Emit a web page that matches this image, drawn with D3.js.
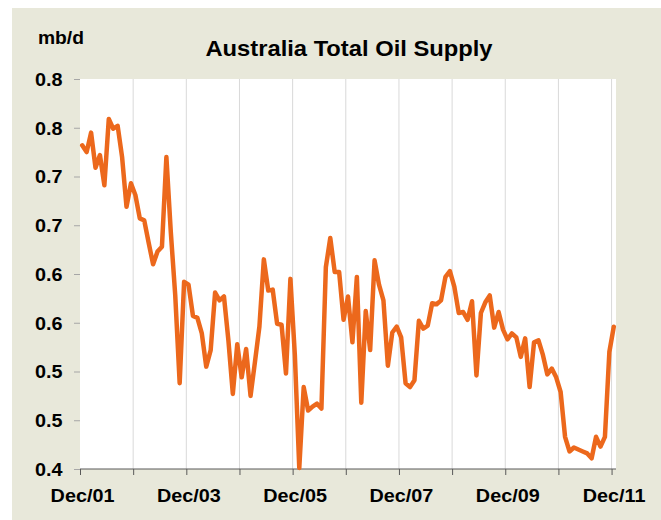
<!DOCTYPE html>
<html>
<head>
<meta charset="utf-8">
<script src="https://cdn.jsdelivr.net/npm/d3@7"></script>
<style>
  body { margin: 0; background: #fff; }
  text { font-family: "Liberation Sans", Arial, sans-serif; font-weight: bold; fill: #000; }
</style>
</head>
<body>
<div id="chart"></div>
<script>
// Canvas
const width = 661,
  height = 520
const plot = { left: 80, top: 79, right: 616, bottom: 469 }
const stretch = 1.1

// Monthly supply, Dec 2001 .. Dec 2011 (mb/d)
const supply = [
  0.732, 0.725, 0.745, 0.709, 0.722, 0.691, 0.759, 0.749, 0.752, 0.720, 0.669, 0.693,
  0.681, 0.657, 0.655, 0.632, 0.610, 0.623, 0.628, 0.720, 0.643, 0.578, 0.488, 0.592,
  0.589, 0.557, 0.555, 0.539, 0.505, 0.522, 0.581, 0.573, 0.577, 0.532, 0.477, 0.528,
  0.494, 0.523, 0.475, 0.510, 0.546, 0.615, 0.583, 0.584, 0.549, 0.548, 0.498, 0.595,
  0.517, 0.401, 0.484, 0.460, 0.464, 0.467, 0.462, 0.607, 0.637, 0.602, 0.602, 0.553,
  0.577, 0.530, 0.597, 0.468, 0.562, 0.522, 0.614, 0.589, 0.573, 0.506, 0.540, 0.546,
  0.535, 0.488, 0.484, 0.491, 0.552, 0.544, 0.547, 0.570, 0.569, 0.573, 0.597, 0.603,
  0.587, 0.560, 0.561, 0.553, 0.572, 0.496, 0.560, 0.571, 0.578, 0.545, 0.561, 0.543,
  0.533, 0.539, 0.535, 0.515, 0.534, 0.484, 0.530, 0.532, 0.517, 0.497, 0.503, 0.494,
  0.479, 0.433, 0.418, 0.422, 0.420, 0.418, 0.416, 0.411, 0.433, 0.423, 0.433, 0.520,
  0.546
]

// December of each year, as month index
const yearTicks = [0, 12, 24, 36, 48, 60, 72, 84, 96, 108, 120]
const xLabels = ['Dec/01', '', 'Dec/03', '', 'Dec/05', '', 'Dec/07', '', 'Dec/09', '', 'Dec/11']

const yTicks = [0.4, 0.45, 0.5, 0.55, 0.6, 0.65, 0.7, 0.75, 0.8]
const yLabels = ['0.4', '0.5', '0.5', '0.6', '0.6', '0.7', '0.7', '0.8', '0.8']

let svg = d3.select('#chart')
  .append('svg')
  .attr('width', width)
  .attr('height', height)

// backgrounds
svg.append('rect')
  .attr('x', 12).attr('y', 8)
  .attr('width', width - 12).attr('height', height - 8)
  .attr('fill', '#e8e8da')

svg.append('rect')
  .attr('x', plot.left).attr('y', plot.top)
  .attr('width', plot.right - plot.left).attr('height', plot.bottom - plot.top)
  .attr('fill', '#fff')

let xScale = d3.scaleLinear()
  .domain([0, supply.length])
  .range([plot.left, plot.right])

let yScale = d3.scaleLinear()
  .domain([0.4, 0.8])
  .range([plot.bottom, plot.top])

// vertical gridlines
svg.selectAll('line.grid')
  .data(yearTicks.slice(1))
  .enter()
  .append('line')
  .attr('class', 'grid')
  .attr('x1', d => xScale(d)).attr('x2', d => xScale(d))
  .attr('y1', plot.top).attr('y2', plot.bottom)
  .attr('stroke', '#d9d9d9')
  .attr('stroke-width', 1)

// y axis
let y_axis = d3.axisLeft(yScale)
  .tickValues(yTicks)
  .tickSize(6)
  .tickPadding(10)
  .tickFormat((d, i) => yLabels[i])

let gy = svg.append('g')
  .attr('transform', `translate(${plot.left},0)`)
  .call(y_axis)
gy.select('.domain').remove()
gy.selectAll('.tick line').attr('stroke', '#a6a6a6')
gy.selectAll('.tick text')
  .attr('font-size', 18)
  .attr('dy', '0.36em')
  .attr('transform', `scale(${stretch},1)`)

// x axis
let x_axis = d3.axisBottom(xScale)
  .tickValues(yearTicks)
  .tickSize(6)
  .tickPadding(14)
  .tickFormat((d, i) => xLabels[i])

let gx = svg.append('g')
  .attr('transform', `translate(0,${plot.bottom})`)
  .call(x_axis)
gx.select('.domain').attr('stroke', '#595959').attr('d', `M${plot.left},0H${plot.right}`)
gx.selectAll('.tick line').attr('stroke', '#595959')
gx.selectAll('.tick text')
  .attr('font-size', 18)
  .attr('transform', `translate(2,0) scale(${stretch},1)`)

// series
let line = d3.line()
  .x((d, i) => xScale(i + 0.5))
  .y(d => yScale(d))

svg.append('path')
  .datum(supply)
  .attr('d', line)
  .attr('fill', 'none')
  .attr('stroke', '#ec681c')
  .attr('stroke-width', 4.5)
  .attr('stroke-linejoin', 'round')
  .attr('stroke-linecap', 'round')

// titles
svg.append('text')
  .attr('transform', `translate(349,56) scale(1.08,1)`)
  .attr('text-anchor', 'middle')
  .attr('font-size', 22)
  .text('Australia Total Oil Supply')

svg.append('text')
  .attr('transform', `translate(38,44) scale(${stretch},1)`)
  .attr('font-size', 17.5)
  .text('mb/d')
</script>
</body>
</html>
